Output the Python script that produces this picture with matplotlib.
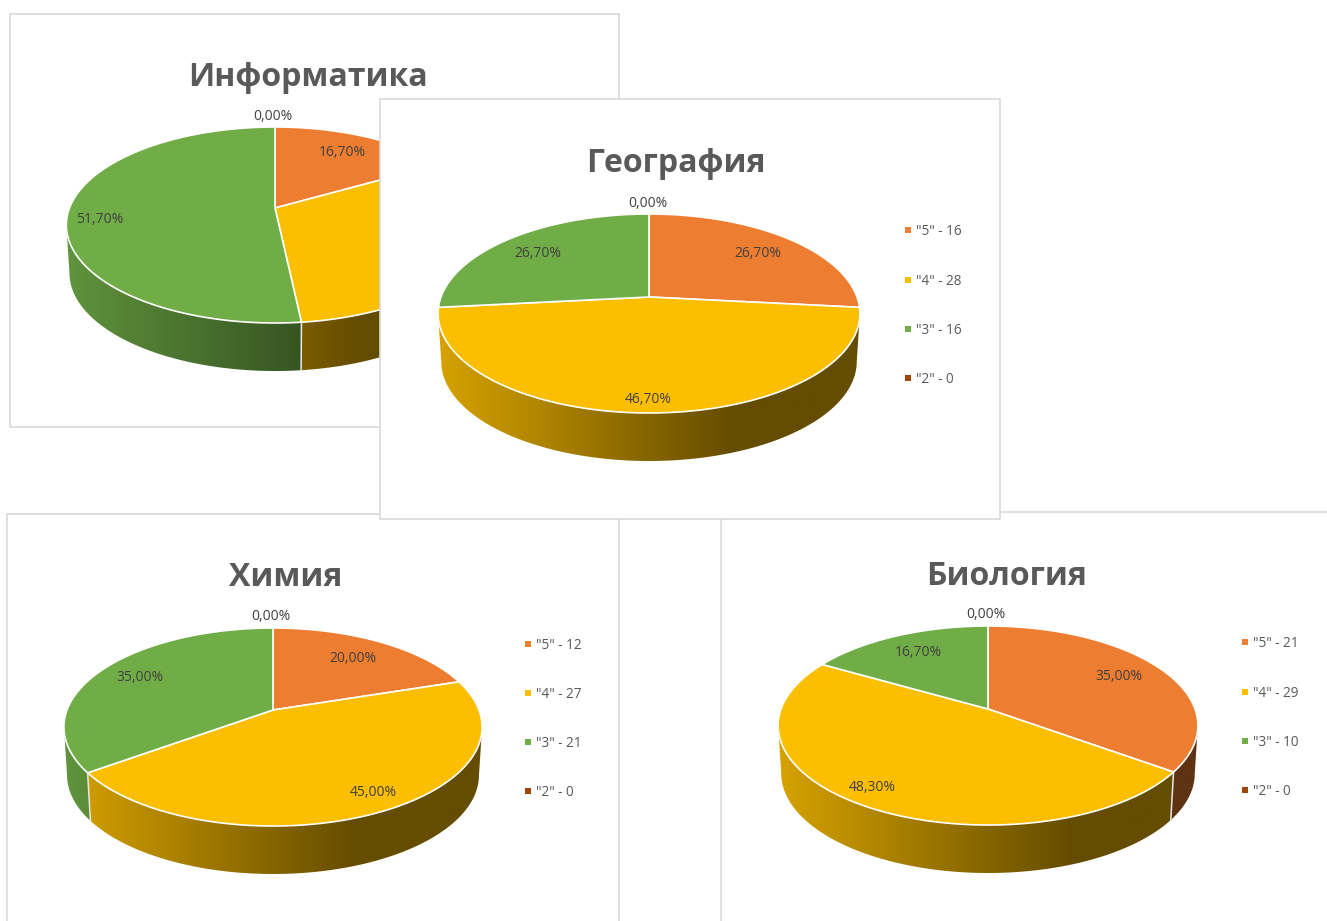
import numpy as np
import matplotlib
matplotlib.use("Agg")
import matplotlib.pyplot as plt
from matplotlib.patches import Polygon, Rectangle

plt.rcParams["font.family"] = ["Open Sans", "DejaVu Sans"]

###### Data
grades = ['"5"', '"4"', '"3"', '"2"']
colors = ["#ED7D31", "#FBBE00", "#70AD47", "#9E480E"]

titles = ["Информатика", "Биология", "Химия", "География"]
percents_inf = [16.7, 31.6, 51.7, 0.0]
percents_bio = [35.0, 48.3, 16.7, 0.0]
percents_him = [20.0, 45.0, 35.0, 0.0]
percents_geo = [26.7, 46.7, 26.7, 0.0]
counts_inf = [10, 19, 31, 0]
counts_bio = [21, 29, 10, 0]
counts_him = [12, 27, 21, 0]
counts_geo = [16, 28, 16, 0]

###### Layout (figure pixels), in drawing order
# box: left, top, right, bottom; pie: apex x, apex y, half width, height above and below apex
boxes = [(10, 14, 619, 427), (721, 512, 1340, 940), (7, 514, 619, 940), (380, 99, 1000, 519)]
pies = [(275, 208, 205.5, 81, 115), (988, 709, 207, 83, 116), (273, 710, 206, 82, 116), (649, 297, 208, 83, 116)]
title_pos = [(308, 77), (1007, 576), (286, 577), (676, 163)]
# label positions in the order 5, 4, 3, 2
label_pos = [
    [(342, 153), (470, 291), (100, 219), (273, 117)],
    [(1119, 676), (872, 787), (918, 652), (986, 614)],
    [(353, 658), (373, 792), (140, 677), (271, 616)],
    [(758, 253), (648, 399), (538, 253), (648, 203)],
]
legend_x = [535, 1245, 528, 908]
legend_y = [(131, 181, 230, 279), (643, 693, 742, 791), (645, 694, 743, 792), (231, 281, 330, 379)]

DEPTH = 48


def rim(theta, pie):
    ## perspective view of the circle, theta clockwise from the top
    ax0, ay0, w, up, down = pie
    h = 2 * up * down / (up + down)
    p = (down - up) / (down + up)
    den = 1 + p * np.cos(theta)
    return ax0 + w * np.sin(theta) / den, ay0 - h * np.cos(theta) / den


def shade(color, ax0, w, left, right):
    ## darkening of the side wall depends on x
    base = np.array(matplotlib.colors.to_rgb(color))
    xs = np.linspace(left, right, 256)
    f = np.clip(0.85 - 0.32 * ((xs - ax0) / w + 1), 0.4, 0.85)
    return (f[:, None] * base)[None, :, :]


def draw_pie(ax, percents, pie, z):
    ax0, ay0, w, up, down = pie
    edges = np.cumsum([0] + list(percents))
    edges = edges / edges[-1] * 2 * np.pi
    left, right = ax0 - w * 1.03, ax0 + w * 1.03
    ## only the front of the wall shows, between the widest points of the rim
    p = (down - up) / (down + up)
    front_a = np.arccos(-p)
    front_b = 2 * np.pi - front_a
    for i, pct in enumerate(percents):
        if pct == 0:
            continue
        a = max(edges[i], front_a)
        b = min(edges[i + 1], front_b)
        if b <= a:
            continue
        t = np.linspace(a, b, 200)
        x, y = rim(t, pie)
        xb = ax0 + (x - ax0) * 0.985
        yb = y + DEPTH
        side = Polygon(np.c_[np.r_[x, xb[::-1]], np.r_[y, yb[::-1]]], closed=True,
                       transform=ax.transData, fc="none", ec="none")
        ax.add_patch(side)
        img = ax.imshow(shade(colors[i], ax0, w, left, right), extent=(left, right, yb.max() + 2, y.min() - 2),
                        aspect="auto", zorder=z + 1, interpolation="bilinear")
        img.set_clip_path(side)
        if edges[i] >= front_a:
            ax.plot([x[0], xb[0]], [y[0], yb[0]], color="#E8E8E8", lw=1.1, zorder=z + 2)
    for i, pct in enumerate(percents):
        if pct == 0:
            continue
        t = np.linspace(edges[i], edges[i + 1], 200)
        x, y = rim(t, pie)
        ax.add_patch(Polygon(np.c_[np.r_[ax0, x], np.r_[ay0, y]], closed=True, fc=colors[i],
                             ec="white", lw=1.2, joinstyle="round", zorder=z + 3))


fig = plt.figure(figsize=(13.27, 9.21), dpi=100, facecolor="white")
ax = fig.add_axes([0, 0, 1, 1])
ax.axis("off")

all_percents = [percents_inf, percents_bio, percents_him, percents_geo]
all_counts = [counts_inf, counts_bio, counts_him, counts_geo]

for n in range(4):
    z = 10 * n + 1
    l, t, r, b = boxes[n]
    ax.add_patch(Rectangle((l, t), r - l, b - t, fc="white", ec="#D9D9D9", lw=1.2, zorder=z))
    draw_pie(ax, all_percents[n], pies[n], z)
    ax.text(*title_pos[n], titles[n], fontsize=23, fontweight="bold", color="#595959",
            ha="center", va="center", zorder=z + 4)
    for pct, (lx, ly) in zip(all_percents[n], label_pos[n]):
        ax.text(lx, ly, f"{pct:.2f}%".replace(".", ","), fontsize=10, color="#404040",
                ha="center", va="center", zorder=z + 4)
    for i in range(4):
        ax.plot(legend_x[n], legend_y[n][i] - 1, marker="s", ms=5, color=colors[i], mew=0, zorder=z + 4)
        ax.text(legend_x[n] + 8, legend_y[n][i], f"{grades[i]} - {all_counts[n][i]}", fontsize=9.8,
                color="#595959", ha="left", va="center", zorder=z + 4)

ax.set_xlim(0, 1327)
ax.set_ylim(921, 0)
fig.savefig("out.png", dpi=100)
